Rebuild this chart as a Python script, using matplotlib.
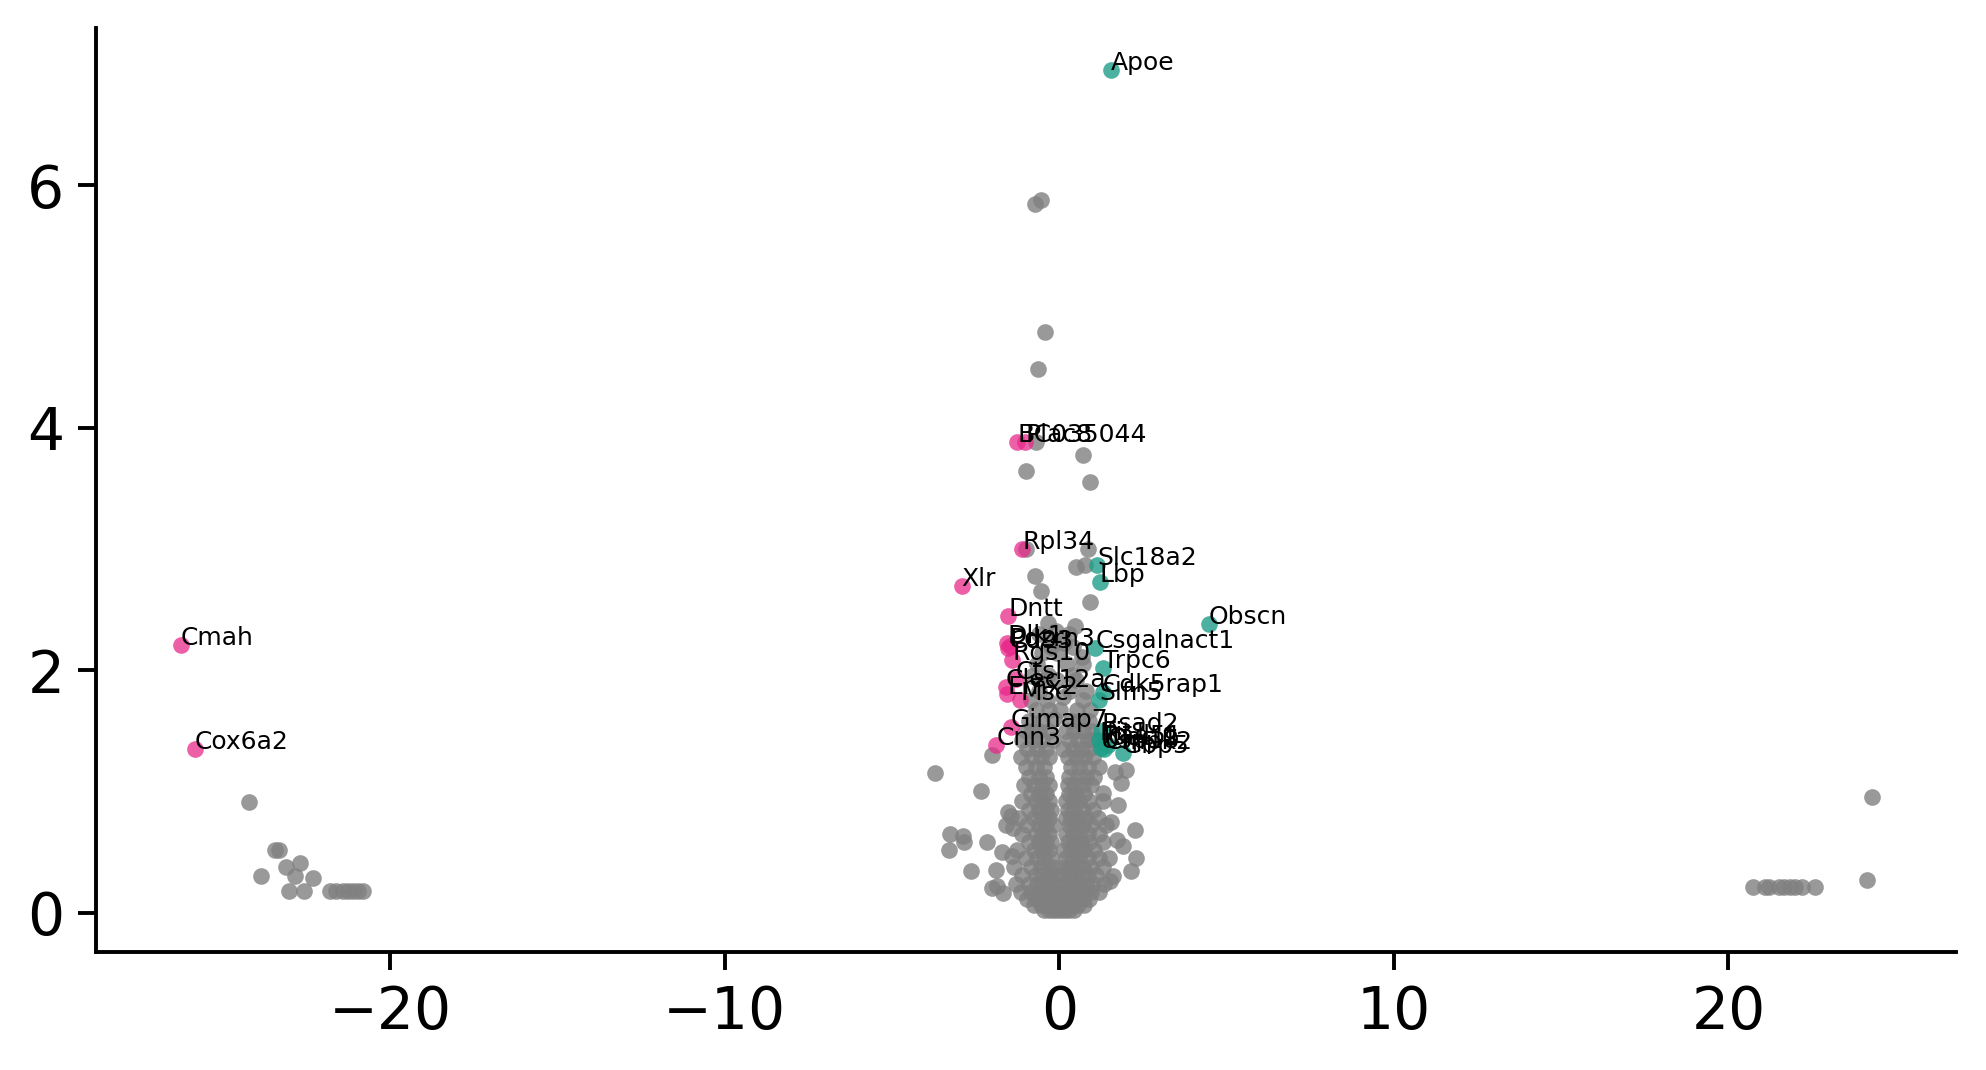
import matplotlib
matplotlib.use("Agg")
import matplotlib.pyplot as plt

# ---------------- data ----------------
# labelled down-regulated genes (pink)
down_genes = ["Cmah", "Cox6a2", "Xlr", "BC035044", "Plac8", "Rpl34", "Dntt",
              "Dlk1", "Cd93", "Pdzrn3", "Rgs10", "Clec12a", "Ctsl", "Emx2",
              "Msc", "Gimap7", "Cnn3"]
down_x = [-26.25, -25.83, -2.92, -1.25, -1.02, -1.10, -1.52,
          -1.56, -1.52, -1.48, -1.40, -1.60, -1.30, -1.55,
          -1.17, -1.45, -1.88]
down_y = [2.21, 1.35, 2.69, 3.88, 3.88, 3.00, 2.45,
          2.22, 2.18, 2.20, 2.08, 1.86, 1.93, 1.80,
          1.75, 1.53, 1.38]

# labelled up-regulated genes (teal)
up_genes = ["Apoe", "Slc18a2", "Lbp", "Obscn", "Csgalnact1", "Trpc6",
            "Cdk5rap1", "Slfn5", "Rsad2", "Ifit1", "Rad51", "Oasl1",
            "Usp18", "Cmpk2", "Gbp5"]
up_x = [1.55, 1.14, 1.21, 4.47, 1.08, 1.32,
        1.30, 1.20, 1.25, 1.20, 1.30, 1.45,
        1.25, 1.35, 1.90]
up_y = [6.95, 2.87, 2.73, 2.38, 2.18, 2.02,
        1.82, 1.75, 1.50, 1.42, 1.40, 1.38,
        1.36, 1.35, 1.32]

# non-significant genes (grey): (log2 fold change, -log10 p)
gray_points = [
    # far left group
    (-24.2, 0.91), (-23.45, 0.52), (-23.33, 0.52), (-23.86, 0.30), (-23.1, 0.38),
    (-22.7, 0.41), (-22.85, 0.30), (-22.3, 0.29), (-23.03, 0.18), (-22.58, 0.18),
    (-21.8, 0.18), (-21.6, 0.18), (-21.4, 0.18), (-21.25, 0.18), (-21.1, 0.18),
    (-20.95, 0.18), (-20.8, 0.18),
    # far right group
    (24.28, 0.95), (24.13, 0.27), (20.72, 0.21), (21.1, 0.21), (21.2, 0.21),
    (21.5, 0.21), (21.65, 0.21), (21.85, 0.21), (22.0, 0.21), (22.2, 0.21),
    (22.58, 0.21),
    # upper scattered
    (-0.72, 5.84), (-0.53, 5.88), (-0.42, 4.79), (-0.64, 4.48), (-0.68, 3.88),
    (0.72, 3.77), (-0.98, 3.64), (0.91, 3.55), (-0.98, 3.0), (0.87, 3.0),
    (0.49, 2.85), (0.76, 2.87), (-0.72, 2.78), (-0.53, 2.65), (0.91, 2.56),
    (-0.6, 2.30), (0.3, 2.30), (-0.1, 2.32), (0.48, 2.36), (-0.33, 2.39),
    (0.42, 2.19), (-0.25, 2.19), (-0.06, 2.14), (0.69, 2.11), (-0.5, 2.14),
    (-0.66, 2.05), (0.24, 2.05), (0.7, 2.05), (-0.33, 1.96), (0.42, 1.96),
    (-0.48, 1.92), (-0.06, 1.92), (0.5, 1.92), (-0.6, 1.83), (0.33, 1.83),
    (0.8, 1.83), (-0.85, 1.75), (-0.36, 1.75), (0.72, 1.75), (-0.7, 1.67),
    (-0.3, 1.67), (0.03, 1.67), (0.54, 1.67), (0.93, 1.67), (-0.9, 1.58),
    (-0.5, 1.58), (0.35, 1.58), (0.6, 1.58), (0.9, 1.58),
    (-0.2, 2.25), (0.15, 2.22), (-0.8, 1.95), (0.1, 1.78), (-0.15, 1.60),
    # sparse sides
    (-3.71, 1.15), (-2.0, 1.30), (-2.35, 1.0), (-3.26, 0.65), (-2.88, 0.63),
    (-3.3, 0.52), (-2.84, 0.58), (-2.65, 0.34), (-2.16, 0.58), (-2.0, 0.2),
    (-1.67, 0.16), (-1.4, 0.47), (-1.53, 0.83), (-1.38, 0.70), (-1.6, 0.72),
    (-1.45, 0.80), (-1.9, 0.35), (-1.7, 0.5), (-1.85, 0.22),
    (1.67, 1.16), (2.0, 1.18), (1.85, 1.07), (1.76, 0.89), (2.27, 0.68),
    (2.3, 0.45), (2.15, 0.34), (1.73, 0.60), (1.9, 0.55), (1.52, 0.26),
    (1.32, 0.99), (1.6, 0.3), (1.55, 0.75),
    # central cluster
    (-1.0, 1.50), (-0.8, 1.50), (-0.6, 1.50), (-0.3, 1.50), (0.2, 1.50), (0.45, 1.50), (0.7, 1.50), (0.95, 1.50),
    (-1.1, 1.42), (-0.75, 1.42), (-0.5, 1.42), (-0.2, 1.42), (0.3, 1.42), (0.55, 1.42), (0.85, 1.42), (1.05, 1.42),
    (-0.95, 1.35), (-0.65, 1.35), (-0.4, 1.35), (0.1, 1.35), (0.4, 1.35), (0.65, 1.35), (0.9, 1.35),
    (-1.15, 1.28), (-0.8, 1.28), (-0.55, 1.28), (-0.3, 1.28), (0.25, 1.28), (0.5, 1.28), (0.75, 1.28), (1.0, 1.28),
    (-1.0, 1.20), (-0.7, 1.20), (-0.45, 1.20), (0.35, 1.20), (0.6, 1.20), (0.85, 1.20), (1.2, 1.20),
    (-0.9, 1.12), (-0.6, 1.12), (-0.4, 1.12), (0.3, 1.12), (0.55, 1.12), (0.8, 1.12), (1.05, 1.12),
    (-1.05, 1.05), (-0.75, 1.05), (-0.5, 1.05), (-0.3, 1.05), (0.25, 1.05), (0.45, 1.05), (0.7, 1.05), (0.95, 1.05),
    (-0.85, 0.98), (-0.6, 0.98), (-0.4, 0.98), (0.3, 0.98), (0.5, 0.98), (0.75, 0.98),
    (-1.1, 0.92), (-0.7, 0.92), (-0.5, 0.92), (-0.3, 0.92), (0.2, 0.92), (0.4, 0.92), (0.6, 0.92), (0.9, 0.92), (1.3, 0.92),
    (-0.9, 0.85), (-0.6, 0.85), (-0.4, 0.85), (-0.25, 0.85), (0.25, 0.85), (0.45, 0.85), (0.7, 0.85), (1.0, 0.85),
    (-1.2, 0.78), (-0.75, 0.78), (-0.5, 0.78), (-0.3, 0.78), (0.2, 0.78), (0.35, 0.78), (0.55, 0.78), (0.8, 0.78), (1.15, 0.78),
    (-0.95, 0.72), (-0.6, 0.72), (-0.4, 0.72), (-0.2, 0.72), (0.3, 0.72), (0.5, 0.72), (0.7, 0.72), (0.95, 0.72), (1.4, 0.72),
    (-1.1, 0.65), (-0.7, 0.65), (-0.5, 0.65), (-0.3, 0.65), (0.2, 0.65), (0.4, 0.65), (0.6, 0.65), (0.85, 0.65), (1.2, 0.65),
    (-0.9, 0.58), (-0.6, 0.58), (-0.4, 0.58), (-0.25, 0.58), (0.25, 0.58), (0.45, 0.58), (0.65, 0.58), (0.9, 0.58), (1.3, 0.58),
    (-1.25, 0.52), (-0.75, 0.52), (-0.5, 0.52), (-0.3, 0.52), (0.15, 0.52), (0.35, 0.52), (0.55, 0.52), (0.75, 0.52), (1.05, 0.52),
    (-1.0, 0.45), (-0.65, 0.45), (-0.45, 0.45), (-0.25, 0.45), (0.2, 0.45), (0.4, 0.45), (0.6, 0.45), (0.85, 0.45), (1.2, 0.45), (1.5, 0.45),
    (-1.35, 0.38), (-0.85, 0.38), (-0.55, 0.38), (-0.35, 0.38), (-0.18, 0.38), (0.15, 0.38), (0.3, 0.38), (0.5, 0.38), (0.7, 0.38), (0.95, 0.38), (1.3, 0.38),
    (-1.1, 0.31), (-0.7, 0.31), (-0.5, 0.31), (-0.3, 0.31), (-0.15, 0.31), (0.12, 0.31), (0.3, 0.31), (0.45, 0.31), (0.65, 0.31), (0.85, 0.31), (1.1, 0.31),
    (-1.3, 0.24), (-0.9, 0.24), (-0.65, 0.24), (-0.45, 0.24), (-0.3, 0.24), (-0.15, 0.24), (0.1, 0.24), (0.25, 0.24), (0.4, 0.24), (0.6, 0.24), (0.8, 0.24), (1.0, 0.24), (1.35, 0.24),
    (-1.15, 0.17), (-0.85, 0.17), (-0.6, 0.17), (-0.4, 0.17), (-0.25, 0.17), (-0.1, 0.17), (0.08, 0.17), (0.2, 0.17), (0.35, 0.17), (0.55, 0.17), (0.75, 0.17), (0.95, 0.17), (1.2, 0.17),
    (-0.95, 0.11), (-0.7, 0.11), (-0.5, 0.11), (-0.35, 0.11), (-0.2, 0.11), (-0.08, 0.11), (0.05, 0.11), (0.18, 0.11), (0.32, 0.11), (0.5, 0.11), (0.7, 0.11), (0.9, 0.11),
    (-0.75, 0.06), (-0.55, 0.06), (-0.4, 0.06), (-0.25, 0.06), (-0.12, 0.06), (0.0, 0.06), (0.12, 0.06), (0.25, 0.06), (0.4, 0.06), (0.55, 0.06), (0.75, 0.06),
    (-0.45, 0.02), (-0.3, 0.02), (-0.18, 0.02), (-0.06, 0.02), (0.06, 0.02), (0.18, 0.02), (0.3, 0.02), (0.45, 0.02),
]
gray_x = [p[0] for p in gray_points]
gray_y = [p[1] for p in gray_points]

x_ticks = [-20, -10, 0, 10, 20]
y_ticks = [0, 2, 4, 6]

# ---------------- plot ----------------
GREY = "#808080"
PINK = "#e7298a"
TEAL = "#1f9e88"

fig = plt.figure(figsize=(9.93, 5.35), dpi=200)
ax = fig.add_axes([0.0485, 0.110, 0.9365, 0.864])

ms = 36
ax.scatter(gray_x, gray_y, s=ms, c=GREY, alpha=0.8, linewidths=0, zorder=2)
ax.scatter(down_x, down_y, s=ms, c=PINK, alpha=0.75, linewidths=0, zorder=3)
ax.scatter(up_x, up_y, s=ms, c=TEAL, alpha=0.8, linewidths=0, zorder=3)

for g, x, y in zip(down_genes, down_x, down_y):
    ax.text(x, y, g, fontsize=9, ha="left", va="baseline", zorder=4)
for g, x, y in zip(up_genes, up_x, up_y):
    ax.text(x, y, g, fontsize=9, ha="left", va="baseline", zorder=4)

ax.set_xticks(x_ticks)
ax.set_yticks(y_ticks)
ax.set_xticklabels([("\u2212" if t < 0 else "") + str(abs(t)) for t in x_ticks])
ax.tick_params(axis="both", labelsize=21, length=6.5, width=1.4, pad=5)
for side in ["top", "right"]:
    ax.spines[side].set_visible(False)
for side in ["left", "bottom"]:
    ax.spines[side].set_linewidth(1.4)

fig.savefig("out.png", dpi=200)
